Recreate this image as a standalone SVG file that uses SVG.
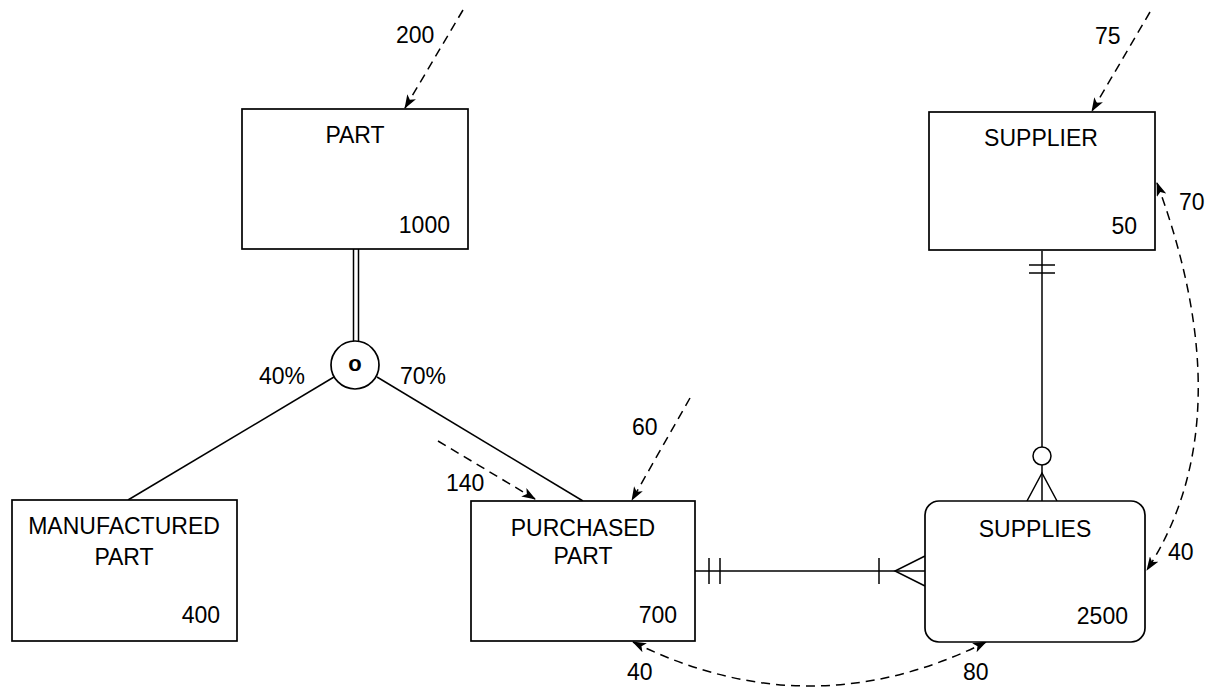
<svg xmlns="http://www.w3.org/2000/svg" width="1213" height="687" viewBox="0 0 1213 687">
<defs>
<marker id="ah" viewBox="0 0 14 10" refX="13" refY="5" markerWidth="14" markerHeight="10" markerUnits="userSpaceOnUse" orient="auto-start-reverse">
<path d="M0,0 L14,5 L0,10 L3.5,5 z" fill="#000"/>
</marker>
</defs>
<style>
.box{fill:#fff;stroke:#000;stroke-width:1.7}
.ln{fill:none;stroke:#000;stroke-width:1.5}
.dash{fill:none;stroke:#000;stroke-width:1.5;stroke-dasharray:9 6}
text{font-family:"Liberation Sans",Arial,sans-serif;font-size:23px;fill:#000}
.c{text-anchor:middle}
.r{text-anchor:end}
</style>
<rect width="1213" height="687" fill="#fff"/>

<g id="connectors">
<line class="ln" x1="353.5" y1="249" x2="353.5" y2="341"/>
<line class="ln" x1="358.5" y1="249" x2="358.5" y2="341"/>
<line class="ln" x1="334" y1="377" x2="128" y2="500"/>
<line class="ln" x1="377" y1="377" x2="583" y2="501"/>
<line class="ln" x1="695" y1="571" x2="925" y2="571"/>
<line class="ln" x1="709" y1="558" x2="709" y2="584"/>
<line class="ln" x1="720" y1="558" x2="720" y2="584"/>
<line class="ln" x1="879" y1="558" x2="879" y2="584"/>
<polyline class="ln" points="925,556 895,571 925,586"/>
<line class="ln" x1="1042" y1="251" x2="1042" y2="447"/>
<line class="ln" x1="1042" y1="465" x2="1042" y2="501"/>
<line class="ln" x1="1029" y1="265" x2="1055" y2="265"/>
<line class="ln" x1="1029" y1="273" x2="1055" y2="273"/>
<circle class="ln" cx="1042" cy="456" r="9"/>
<polyline class="ln" points="1027,501 1042,473 1057,501"/>
<line class="dash" x1="463" y1="10" x2="405" y2="108" marker-end="url(#ah)"/>
<line class="dash" x1="1150" y1="12" x2="1092" y2="111" marker-end="url(#ah)"/>
<line class="dash" x1="690" y1="398" x2="632" y2="500" marker-end="url(#ah)"/>
<line class="dash" x1="438" y1="441" x2="535" y2="499" marker-end="url(#ah)"/>
<path class="dash" d="M633,642 Q810,730 986,642" marker-start="url(#ah)" marker-end="url(#ah)"/>
<path class="dash" d="M1157,183 C1215,340 1212,470 1147,570" marker-start="url(#ah)" marker-end="url(#ah)"/>
</g>

<g id="part">
<rect class="box" x="242" y="109" width="226" height="140"/>
<text class="c" x="355" y="143">PART</text>
<text class="r" x="450" y="233">1000</text>
</g>

<g id="subtype">
<circle class="box" cx="355" cy="365" r="24"/>
<text class="c" x="355" y="371" style="font-weight:bold;font-size:22px">o</text>
</g>

<g id="manufactured-part">
<rect class="box" x="12" y="500" width="225" height="141"/>
<text class="c" x="124" y="534">MANUFACTURED</text>
<text class="c" x="124" y="565">PART</text>
<text class="r" x="220" y="623">400</text>
</g>

<g id="purchased-part">
<rect class="box" x="471" y="501" width="224" height="140"/>
<text class="c" x="583" y="536">PURCHASED</text>
<text class="c" x="583" y="564">PART</text>
<text class="r" x="677" y="623">700</text>
</g>

<g id="supplier">
<rect class="box" x="929" y="112" width="226" height="138"/>
<text class="c" x="1041" y="146">SUPPLIER</text>
<text class="r" x="1137" y="234">50</text>
</g>

<g id="supplies">
<rect class="box" x="925" y="501" width="220" height="141" rx="14" ry="14"/>
<text class="c" x="1035" y="537">SUPPLIES</text>
<text class="r" x="1128" y="624">2500</text>
</g>

<g id="labels">
<text x="396" y="43">200</text>
<text x="1095" y="44">75</text>
<text x="1179" y="210">70</text>
<text x="1168" y="560">40</text>
<text x="259" y="384">40%</text>
<text x="400" y="384">70%</text>
<text x="446" y="491">140</text>
<text x="632" y="435">60</text>
<text x="627" y="680">40</text>
<text x="963" y="680">80</text>
</g>
</svg>
